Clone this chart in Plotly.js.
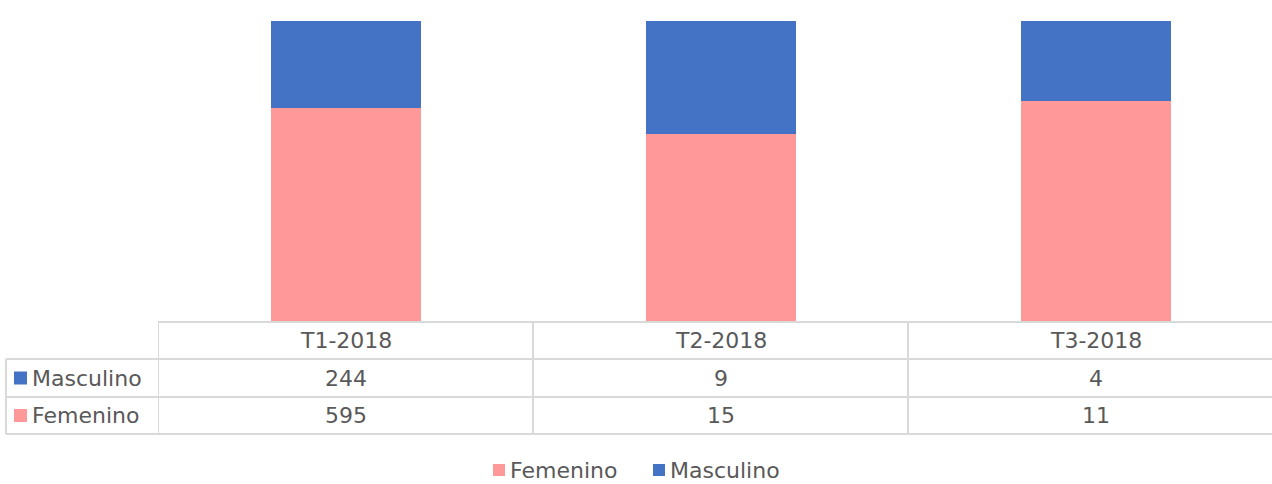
<!DOCTYPE html>
<html>
<head>
<meta charset="utf-8">
<script src="https://cdn.plot.ly/plotly-3.0.1.min.js"></script>
<style>html,body{margin:0;padding:0;background:#fff;}#chart{width:1272px;height:484px;}</style>
</head>
<body>
<div id="chart"></div>
<script>
const categories = ['T1-2018', 'T2-2018', 'T3-2018'];
const femenino = [595, 15, 11];
const masculino = [244, 9, 4];
const seriesNames = ['Femenino', 'Masculino'];
const colors = {Femenino: '#FF9999', Masculino: '#4472C4'};

const FONT = 'DejaVu Sans, sans-serif';
const TXT = '#595959';
const LINE = '#d9d9d9';
const FS = 22;

const traces = [
  {type: 'bar', name: seriesNames[0], x: categories, y: femenino, marker: {color: colors.Femenino}, width: 0.4},
  {type: 'bar', name: seriesNames[1], x: categories, y: masculino, marker: {color: colors.Masculino}, width: 0.4}
];

// plot area: x 158..1272, y 21..321
const plotW = 1114, plotH = 300;
const py = px => (321 - px) / plotH;
const ppx = px => (px - 158) / plotW;

const shapes = [];
const annotations = [];
function hline(yPix, x0) {
  shapes.push({type: 'line', xref: 'paper', yref: 'paper', x0: x0, x1: 1, y0: py(yPix), y1: py(yPix), line: {color: LINE, width: 2}});
}
hline(322, 0);
hline(359, ppx(6));
hline(397, ppx(6));
hline(434, ppx(6));
[-0.5, 0.5, 1.5].forEach(b => {
  shapes.push({type: 'line', xref: 'x', yref: 'paper', x0: b, x1: b, y0: py(322), y1: py(434), line: {color: LINE, width: 2}});
});
shapes.push({type: 'line', xref: 'paper', yref: 'paper', x0: ppx(6), x1: ppx(6), y0: py(359), y1: py(434), line: {color: LINE, width: 2}});

categories.forEach(c => {
  annotations.push({xref: 'x', yref: 'paper', x: c, y: py(340.5), text: c, showarrow: false, xanchor: 'center', yanchor: 'middle', font: {family: FONT, size: FS, color: TXT}});
});
const rows = [
  {name: seriesNames[1], vals: masculino, yc: 378},
  {name: seriesNames[0], vals: femenino, yc: 415.5}
];
rows.forEach(r => {
  shapes.push({type: 'rect', xref: 'paper', yref: 'paper', x0: ppx(14), x1: ppx(27), y0: py(r.yc - 6.5), y1: py(r.yc + 6.5), fillcolor: colors[r.name], line: {width: 0}});
  annotations.push({xref: 'paper', yref: 'paper', x: ppx(30), y: py(r.yc), text: r.name, showarrow: false, xanchor: 'left', yanchor: 'middle', font: {family: FONT, size: FS, color: TXT}});
  r.vals.forEach((v, i) => {
    annotations.push({xref: 'x', yref: 'paper', x: categories[i], y: py(r.yc), text: String(v), showarrow: false, xanchor: 'center', yanchor: 'middle', font: {family: FONT, size: FS, color: TXT}});
  });
});

const legendItems = [{name: seriesNames[0], mx: 493}, {name: seriesNames[1], mx: 653}];
legendItems.forEach(it => {
  shapes.push({type: 'rect', xref: 'paper', yref: 'paper', x0: ppx(it.mx), x1: ppx(it.mx + 12), y0: py(476), y1: py(464), fillcolor: colors[it.name], line: {width: 0}});
  annotations.push({xref: 'paper', yref: 'paper', x: ppx(it.mx + 15), y: py(470), text: it.name, showarrow: false, xanchor: 'left', yanchor: 'middle', font: {family: FONT, size: FS, color: TXT}});
});

const layout = {
  width: 1272, height: 484,
  margin: {l: 158, r: 0, t: 21, b: 163, pad: 0, autoexpand: false},
  paper_bgcolor: '#fff', plot_bgcolor: '#fff',
  barmode: 'stack', barnorm: 'percent',
  xaxis: {range: [-0.5, -0.5 + plotW / 375], showticklabels: false, showgrid: false, zeroline: false, showline: false, ticks: '', fixedrange: true},
  yaxis: {range: [0, 100], visible: false, showgrid: false, zeroline: false, fixedrange: true},
  showlegend: false,
  shapes: shapes,
  annotations: annotations,
  font: {family: FONT, color: TXT}
};

Plotly.newPlot('chart', traces, layout, {displayModeBar: false, staticPlot: true});
</script>
</body>
</html>
